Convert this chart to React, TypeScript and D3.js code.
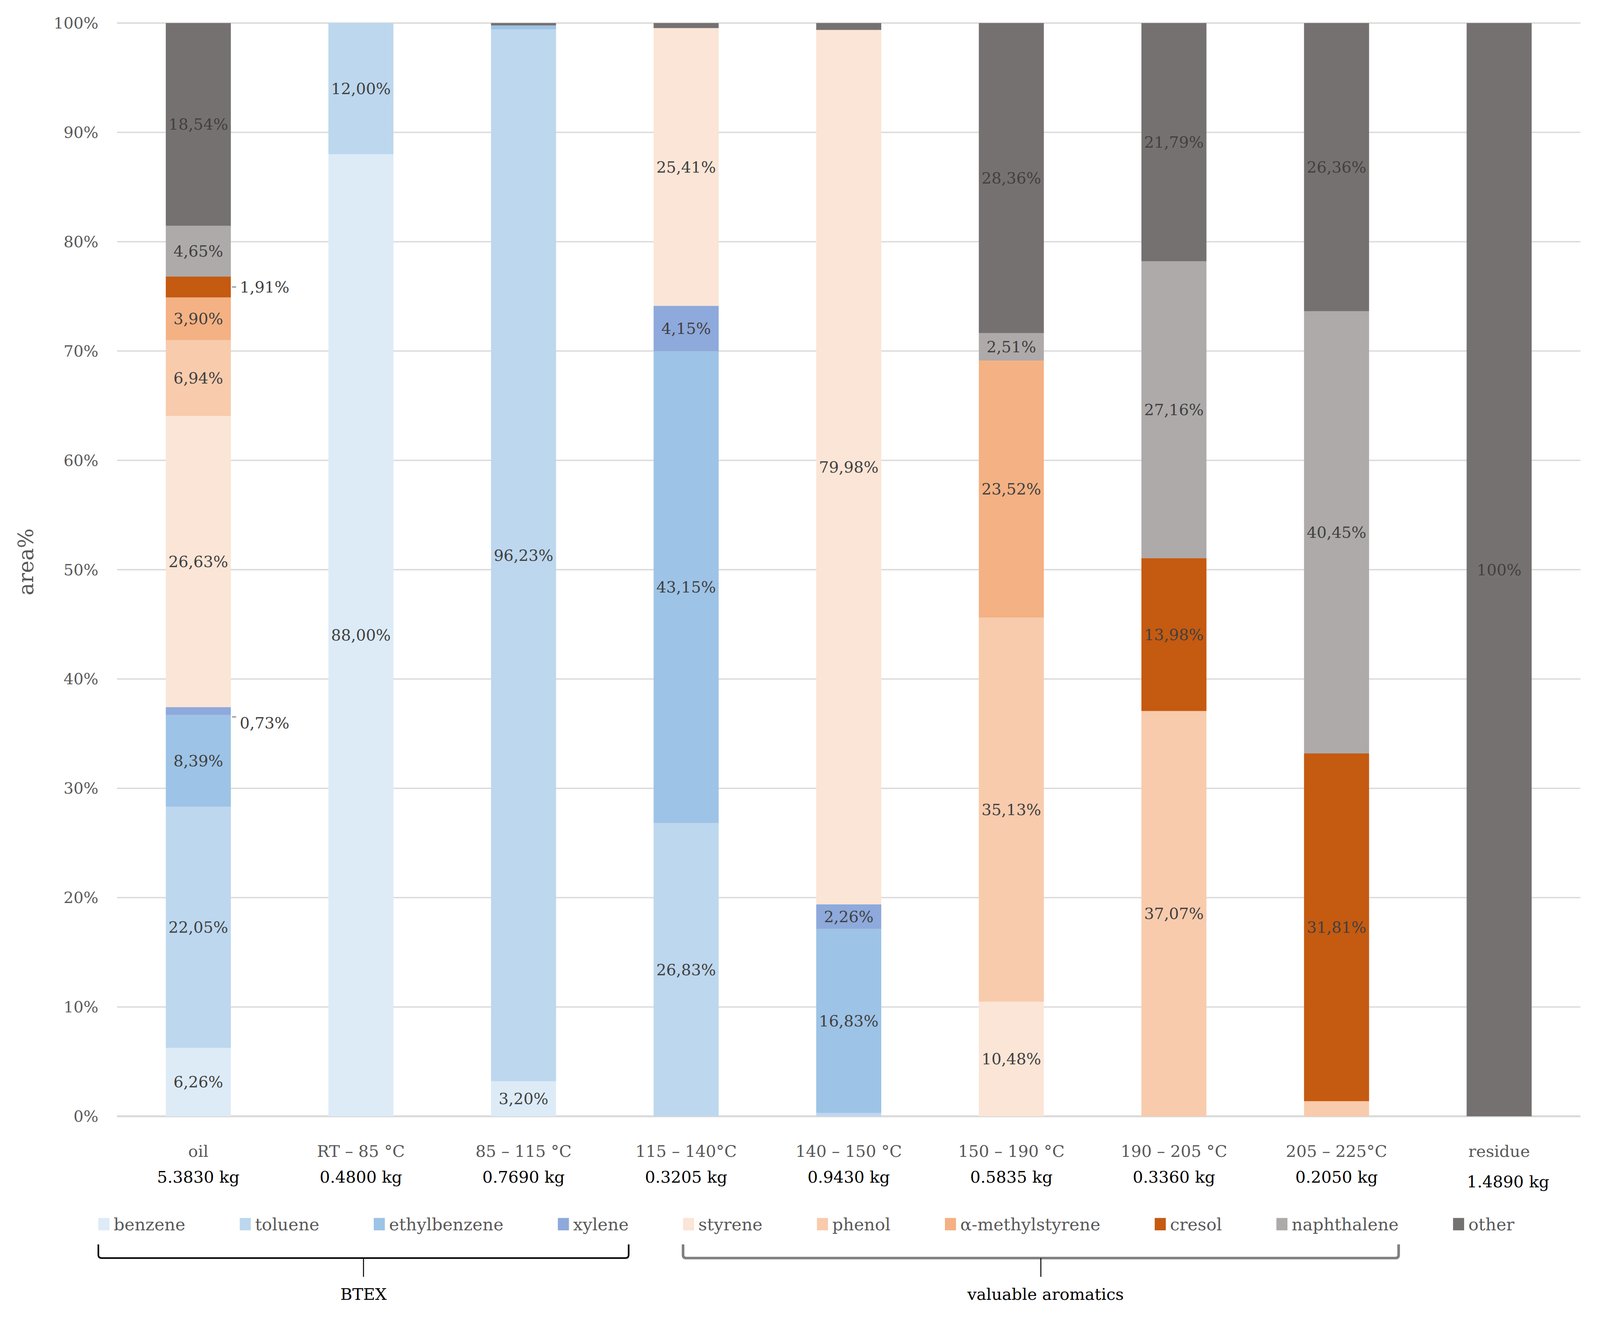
import React, { useEffect, useRef } from 'react';
import * as d3 from 'd3';

// categories (fractions) and their masses
const categories = ['oil', 'RT – 85 °C', '85 – 115 °C', '115 – 140°C', '140 – 150 °C', '150 – 190 °C', '190 – 205 °C', '205 – 225°C', 'residue'];
const masses = ['5.3830 kg', '0.4800 kg', '0.7690 kg', '0.3205 kg', '0.9430 kg', '0.5835 kg', '0.3360 kg', '0.2050 kg', '1.4890 kg'];

const seriesNames = ['benzene', 'toluene', 'ethylbenzene', 'xylene', 'styrene', 'phenol', 'α-methylstyrene', 'cresol', 'naphthalene', 'other'];
const seriesColors = ['#DDEBF7', '#BDD7EE', '#9DC3E6', '#8EA9DB', '#FBE5D6', '#F8CBAD', '#F4B183', '#C55A11', '#AEAAAA', '#767171'];

// area% per fraction
const benzene = [6.26, 88.0, 3.2, 0, 0, 0, 0, 0, 0];
const toluene = [22.05, 12.0, 96.23, 26.83, 0.3, 0, 0, 0, 0];
const ethylbenzene = [8.39, 0, 0.35, 43.15, 16.83, 0, 0, 0, 0];
const xylene = [0.73, 0, 0, 4.15, 2.26, 0, 0, 0, 0];
const styrene = [26.63, 0, 0, 25.41, 79.98, 10.48, 0, 0, 0];
const phenol = [6.94, 0, 0, 0, 0, 35.13, 37.07, 1.38, 0];
const methylstyrene = [3.9, 0, 0, 0, 0, 23.52, 0, 0, 0];
const cresol = [1.91, 0, 0, 0, 0, 0, 13.98, 31.81, 0];
const naphthalene = [4.65, 0, 0, 0, 0, 2.51, 27.16, 40.45, 0];
const other = [18.54, 0, 0.22, 0.46, 0.63, 28.36, 21.79, 26.36, 100];

const seriesValues = [benzene, toluene, ethylbenzene, xylene, styrene, phenol, methylstyrene, cresol, naphthalene, other];

const yTicks = [0, 10, 20, 30, 40, 50, 60, 70, 80, 90, 100];

const groups = [
    { name: 'BTEX', from: 0, to: 3, color: '#000000', width: 5 },
    { name: 'valuable aromatics', from: 4, to: 8, color: '#808080', width: 8 },
];

// layout is designed on a 5401 x 3377 canvas and scaled to the real viewport
const REF_W = 5401;
const REF_H = 3377;
const FONT = '"DejaVu Serif", serif';

const fmt = (v: number) => (v === 100 ? '100%' : v.toFixed(2).replace('.', ',') + '%');

const App: React.FC = () => {
    const svgRef = useRef<SVGSVGElement>(null);

    useEffect(() => {
        document.documentElement.style.overflow = 'hidden';
        document.body.style.margin = '0';

        const W = document.documentElement.clientWidth || REF_W;
        const H = document.documentElement.clientHeight || REF_H;
        const sx = W / REF_W;
        const sy = H / REF_H;
        const fs = Math.min(Math.min(sx, sy) * 1.1, Math.max(sx, sy));
        const X = (v: number) => v * sx;
        const Y = (v: number) => v * sy;
        const F = (v: number) => v * fs;

        const root = d3.select(svgRef.current).attr('width', W).attr('height', H);
        root.selectAll('*').remove();

        const margin = { top: Y(59), right: X(66), bottom: Y(519), left: X(395) };
        const innerW = W - margin.left - margin.right;
        const innerH = H - margin.top - margin.bottom;

        const svg = root.append('g').attr('transform', `translate(${margin.left},${margin.top})`);

        const x = d3.scaleBand<string>().domain(categories).range([0, innerW]).paddingInner(0.6).paddingOuter(0.3);
        const y = d3.scaleLinear().domain([0, 100]).range([innerH, 0]);

        // gridlines
        svg.append('g')
            .selectAll('line')
            .data(yTicks)
            .join('line')
            .attr('x1', 0)
            .attr('x2', innerW)
            .attr('y1', d => y(d))
            .attr('y2', d => y(d))
            .attr('stroke', '#d9d9d9')
            .attr('stroke-width', d => F(d === 0 ? 6 : 4));

        // y tick labels
        svg.append('g')
            .selectAll('text')
            .data(yTicks)
            .join('text')
            .attr('x', -X(63))
            .attr('y', d => y(d))
            .attr('dy', '0.35em')
            .attr('text-anchor', 'end')
            .attr('font-family', FONT)
            .attr('font-size', F(48))
            .attr('fill', '#595959')
            .text(d => `${d}%`);

        // y title
        svg.append('text')
            .attr('transform', `translate(${X(88) - margin.left},${innerH / 2 - Y(20)}) rotate(-90)`)
            .attr('text-anchor', 'middle')
            .attr('dy', '0.35em')
            .attr('font-family', FONT)
            .attr('font-size', F(64))
            .attr('fill', '#595959')
            .text('area%');

        // stacked bars
        const table = categories.map((c, i) => {
            const row: Record<string, number | string> = { cat: c };
            seriesNames.forEach((s, k) => (row[s] = seriesValues[k][i]));
            return row;
        });
        const stacked = d3.stack<Record<string, number | string>>().keys(seriesNames)(table as any);

        stacked.forEach((layer, k) => {
            svg.append('g')
                .attr('fill', seriesColors[k])
                .selectAll('rect')
                .data(layer.filter(d => d[1] - d[0] > 0))
                .join('rect')
                .attr('x', d => x(d.data.cat as string)!)
                .attr('width', x.bandwidth())
                .attr('y', d => y(d[1]))
                .attr('height', d => y(d[0]) - y(d[1]));
        });

        // data labels
        const labels = svg.append('g').attr('font-family', FONT).attr('font-size', F(48)).attr('fill', '#404040');
        stacked.forEach(layer => {
            layer.forEach((d, i) => {
                const v = d[1] - d[0];
                const cx = x(categories[i])! + x.bandwidth() / 2;
                const cy = y((d[0] + d[1]) / 2);
                if (v >= 2) {
                    labels.append('text')
                        .attr('x', cx)
                        .attr('y', cy)
                        .attr('dy', '0.35em')
                        .attr('text-anchor', 'middle')
                        .text(fmt(v));
                } else if (i === 0 && v >= 0.7) {
                    // small slices of the oil bar are labelled outside with a short leader
                    const right = x(categories[i])! + x.bandwidth();
                    const oy = v < 1 ? Y(30) : 0;
                    labels.append('line')
                        .attr('x1', right + X(4))
                        .attr('x2', right + X(18))
                        .attr('y1', cy + oy / 2)
                        .attr('y2', cy + oy / 2)
                        .attr('stroke', '#7f7f7f')
                        .attr('stroke-width', F(3));
                    labels.append('text')
                        .attr('x', right + X(30))
                        .attr('y', cy + oy)
                        .attr('dy', '0.35em')
                        .text(fmt(v));
                }
            });
        });

        // category labels (name + mass)
        const xl = svg.append('g').attr('font-family', FONT).attr('font-size', F(50)).attr('text-anchor', 'middle');
        categories.forEach((c, i) => {
            const cx = x(c)! + x.bandwidth() / 2;
            const last = i === categories.length - 1;
            xl.append('text').attr('x', cx).attr('y', Y(2962) - margin.top).attr('fill', '#595959').text(c);
            xl.append('text')
                .attr('x', cx + (last ? X(30) : 0))
                .attr('y', Y(3028 + (last ? 12 : 0)) - margin.top)
                .attr('fill', '#000000')
                .text(masses[i]);
        });

        // legend
        const legendY = Y(3150);
        const boxW = F(34);
        const boxH = F(38);
        const pad = F(13);
        const legend = root.append('g').attr('font-family', FONT).attr('font-size', F(52));
        const items = seriesNames.map((s, k) => {
            const g = legend.append('g');
            g.append('rect').attr('y', legendY - boxH).attr('width', boxW).attr('height', boxH).attr('fill', seriesColors[k]);
            const t = g.append('text').attr('x', boxW + pad).attr('y', legendY).attr('fill', '#595959').text(s);
            const tw = (t.node() as SVGTextElement).getComputedTextLength();
            return { g, w: boxW + pad + tw };
        });
        const x0 = X(332);
        const x1 = X(5112);
        const total = d3.sum(items, d => d.w);
        const gap = (x1 - x0 - total) / (items.length - 1);
        let cursor = x0;
        const pos: { left: number; right: number }[] = [];
        items.forEach(it => {
            it.g.attr('transform', `translate(${cursor},0)`);
            pos.push({ left: cursor, right: cursor + it.w });
            cursor += it.w + gap;
        });

        // brackets under the legend
        const top = Y(3186);
        const mid = Y(3221);
        const r0 = F(10);
        groups.forEach(gr => {
            const l = pos[gr.from].left;
            const r = pos[gr.to].right;
            const c = (l + r) / 2;
            const b = root.append('g').attr('fill', 'none').attr('stroke', gr.color).attr('stroke-width', F(gr.width));
            b.append('path').attr('d', `M${l},${top} L${l},${mid - r0} Q${l},${mid} ${l + r0},${mid} L${r - r0},${mid} Q${r},${mid} ${r},${mid - r0} L${r},${top}`);
            b.append('line').attr('x1', c).attr('x2', c).attr('y1', mid).attr('y2', Y(3269)).attr('stroke', '#000').attr('stroke-width', F(3));
            root.append('text')
                .attr('x', c + (gr.from === 0 ? 0 : X(16)))
                .attr('y', Y(3328))
                .attr('text-anchor', 'middle')
                .attr('font-family', FONT)
                .attr('font-size', F(50))
                .attr('fill', '#000')
                .text(gr.name);
        });
    }, []);

    return (
        <svg
            ref={svgRef}
            style={{ position: 'absolute', left: 0, top: 0, background: '#ffffff', display: 'block' }}
        ></svg>
    );
};

export default App;
